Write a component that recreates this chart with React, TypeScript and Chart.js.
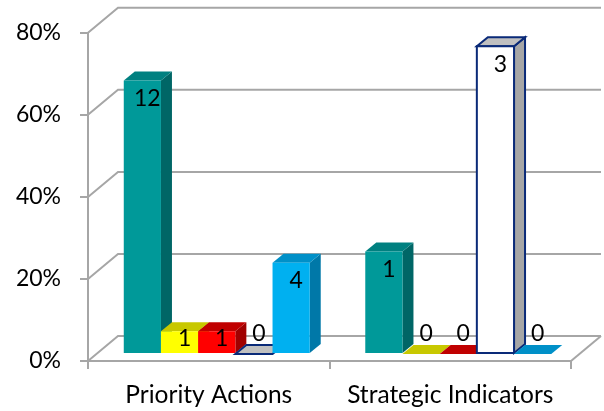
import React, { useEffect, useRef } from 'react';
import { Chart, registerables } from 'chart.js';

Chart.register(...registerables);

// ---- data ----
const categories = ['Priority Actions', 'Strategic Indicators'];
const seriesNames = ['Series 1', 'Series 2', 'Series 3', 'Series 4', 'Series 5'];
const series1Counts = [12, 1];
const series2Counts = [1, 0];
const series3Counts = [1, 0];
const series4Counts = [0, 3];
const series5Counts = [4, 0];
const yTicks = [0, 20, 40, 60, 80];

const allCounts = [series1Counts, series2Counts, series3Counts, series4Counts, series5Counts];
const totals = categories.map((_, i) => allCounts.reduce((s, arr) => s + arr[i], 0));
const percents = allCounts.map((arr) => arr.map((c, i) => (c / totals[i]) * 100));

// ---- styles ----
const GRID = '#A6A6A6';
const FONT = 'Lato, "Open Sans", sans-serif';
const FONT_SIZE = 23;
const X_FONT_SIZE = 24.5;
const seriesStyles = [
  { front: '#009999', side: '#006666', top: '#008080', stroke: '' },
  { front: '#FFFF00', side: '#A8A800', top: '#C8C800', stroke: '' },
  { front: '#FF0000', side: '#A00000', top: '#C00000', stroke: '' },
  { front: '#FFFFFF', side: '#A6A6A6', top: '#C0C0C0', stroke: '#0A2A78' },
  { front: '#00B0F0', side: '#0078A8', top: '#0090C8', stroke: '' },
];

const DEPTH_X = 30;
const DEPTH_Y = -25;
const BAR_OFF_X = 8;
const BAR_OFF_Y = -7;
const BAR_DX = 11;
const BAR_DY = -9;

function poly(ctx: CanvasRenderingContext2D, pts: number[][], fill: string, stroke: string) {
  ctx.beginPath();
  ctx.moveTo(pts[0][0], pts[0][1]);
  for (let i = 1; i < pts.length; i++) ctx.lineTo(pts[i][0], pts[i][1]);
  ctx.closePath();
  ctx.fillStyle = fill;
  ctx.fill();
  if (stroke) {
    ctx.lineWidth = 2;
    ctx.lineJoin = 'miter';
    ctx.strokeStyle = stroke;
    ctx.stroke();
  }
}

const threeDPlugin = {
  id: 'threeD',
  beforeDatasetsDraw(chart: any) {
    const { ctx, chartArea, scales } = chart;
    const { left, right, bottom } = chartArea;
    const y = scales.y;
    ctx.save();
    // back wall / side wall gridlines
    ctx.strokeStyle = GRID;
    ctx.lineWidth = 2;
    yTicks.forEach((v) => {
      const py = y.getPixelForValue(v);
      ctx.beginPath();
      ctx.moveTo(left, py);
      ctx.lineTo(left + DEPTH_X, py + DEPTH_Y);
      ctx.lineTo(right + DEPTH_X, py + DEPTH_Y);
      ctx.stroke();
    });
    ctx.beginPath();
    ctx.moveTo(right, bottom);
    ctx.lineTo(right + DEPTH_X, bottom + DEPTH_Y);
    ctx.stroke();

    const labels: { x: number; y: number; t: string }[] = [];
    categories.forEach((_, i) => {
      allCounts.forEach((counts, d) => {
        const meta = chart.getDatasetMeta(d);
        const el = meta.data[i];
        if (!el) return;
        const p = el.getProps(['x', 'y', 'base', 'width'], true);
        const st = seriesStyles[d];
        const x0 = p.x - p.width / 2 + BAR_OFF_X;
        const x1 = x0 + p.width;
        const yt = p.y + BAR_OFF_Y;
        const yb = p.base + BAR_OFF_Y;
        const h = yb - yt;
        if (counts[i] > 0) {
          poly(ctx, [[x1, yt], [x1 + BAR_DX, yt + BAR_DY], [x1 + BAR_DX, yb + BAR_DY], [x1, yb]], st.side, st.stroke);
          poly(ctx, [[x0, yt], [x1, yt], [x1 + BAR_DX, yt + BAR_DY], [x0 + BAR_DX, yt + BAR_DY]], st.top, st.stroke);
          poly(ctx, [[x0, yt], [x1, yt], [x1, yb], [x0, yb]], st.front, st.stroke);
          labels.push({ x: (x0 + x1) / 2 + 5, y: yt + Math.min(18, h / 3), t: String(counts[i]) });
        } else {
          poly(ctx, [[x0, yb], [x1, yb], [x1 + BAR_DX, yb + BAR_DY], [x0 + BAR_DX, yb + BAR_DY]], st.top, st.stroke);
          labels.push({ x: (x0 + x1) / 2 + 5, y: yb - 20, t: String(counts[i]) });
        }
      });
    });
    ctx.fillStyle = '#000';
    ctx.font = `${FONT_SIZE}px ${FONT}`;
    ctx.textAlign = 'center';
    ctx.textBaseline = 'middle';
    labels.forEach((l) => ctx.fillText(l.t, l.x, l.y));
    ctx.restore();
    return false;
  },
};

export default function App() {
  const ref = useRef<HTMLCanvasElement | null>(null);
  useEffect(() => {
    document.body.style.margin = '0';
    let chart: Chart | null = null;
    let cancelled = false;
    const make = () => {
      if (cancelled || !ref.current) return;
      chart = new Chart(ref.current, {
        type: 'bar',
        data: {
          labels: categories,
          datasets: percents.map((vals, d) => ({
            label: seriesNames[d],
            data: vals,
            backgroundColor: seriesStyles[d].front,
            categoryPercentage: 0.77,
            barPercentage: 1,
          })),
        },
        options: {
          responsive: false,
          animation: false,
          devicePixelRatio: 1,
          layout: { padding: { top: 31, right: 33, left: 0, bottom: 0 } },
          plugins: { legend: { display: false }, tooltip: { enabled: false } },
          scales: {
            x: {
              offset: true,
              grid: { display: true, drawOnChartArea: false, drawTicks: true, tickLength: 8, color: GRID, lineWidth: 2, offset: true },
              border: { display: true, color: GRID, width: 2 },
              ticks: { color: '#000', font: { family: FONT, size: X_FONT_SIZE }, padding: 11, maxRotation: 0, autoSkip: false },
              afterFit: (s: any) => { s.height = 50; },
            },
            y: {
              min: 0,
              max: 80,
              ticks: { stepSize: 20, callback: (v: any) => v + '%', color: '#000', font: { family: FONT, size: FONT_SIZE }, padding: 19 },
              grid: { display: true, drawOnChartArea: false, drawTicks: true, tickLength: 8, color: GRID, lineWidth: 2 },
              border: { display: true, color: GRID, width: 2 },
              afterFit: (s: any) => { s.width = 88; },
            },
          },
        },
        plugins: [threeDPlugin],
      } as any);
    };
    if ((document as any).fonts && (document as any).fonts.load) {
      (document as any).fonts.load(`${FONT_SIZE}px Lato`).then(make, make);
    } else make();
    return () => {
      cancelled = true;
      if (chart) chart.destroy();
    };
  }, []);
  return (
    <div style={{ width: 604, height: 411 }}>
      <canvas ref={ref} width={604} height={411} />
    </div>
  );
}
